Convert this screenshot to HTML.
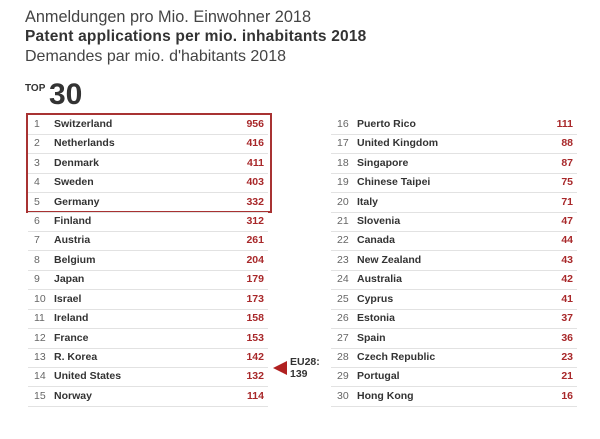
<!DOCTYPE html>
<html><head><meta charset="utf-8"><style>
body{margin:0;width:600px;height:439px;background:#fff;font-family:"Liberation Sans",Arial,sans-serif;color:#333;position:relative;overflow:hidden}
.t{position:absolute;left:25px;font-size:16.3px;white-space:nowrap;color:#444}
.row{position:absolute;height:19px;border-bottom:1px solid #e2e2e2;font-size:10.5px;line-height:19px}
.rk{position:absolute;color:#666}
.nm{position:absolute;font-weight:bold;color:#333}
.v{position:absolute;right:4px;font-weight:bold;color:#a8282a}
</style></head><body>
<div class="t" style="top:8px">Anmeldungen pro Mio. Einwohner 2018</div>
<div class="t" style="top:28px;font-size:15.5px;font-weight:bold;color:#333;letter-spacing:0.2px">Patent applications per mio. inhabitants 2018</div>
<div class="t" style="top:48px;font-size:16px">Demandes par mio. d'habitants 2018</div>
<div style="position:absolute;left:25px;top:83px;font-size:10px;font-weight:bold;color:#333">TOP</div>
<div style="position:absolute;left:49px;top:80px;font-size:30px;font-weight:bold;color:#333;line-height:30px">30</div>
<div style="position:absolute;left:26px;top:113px;width:242px;height:96px;border:2px solid #a83232"></div>
<div id="L"></div>
<div style="position:absolute;left:273px;top:361px;width:0;height:0;border-top:7px solid transparent;border-bottom:7px solid transparent;border-right:14px solid #b02020"></div>
<div style="position:absolute;left:290px;top:356px;font-size:10.5px;font-weight:bold;line-height:12px;color:#333">EU28:<br>139</div>
<script>
var l=[["Switzerland",956],["Netherlands",416],["Denmark",411],["Sweden",403],["Germany",332],["Finland",312],["Austria",261],["Belgium",204],["Japan",179],["Israel",173],["Ireland",158],["France",153],["R. Korea",142],["United States",132],["Norway",114]];
var r=[["Puerto Rico",111],["United Kingdom",88],["Singapore",87],["Chinese Taipei",75],["Italy",71],["Slovenia",47],["Canada",44],["New Zealand",43],["Australia",42],["Cyprus",41],["Estonia",37],["Spain",36],["Czech Republic",23],["Portugal",21],["Hong Kong",16]];
var h="";
function add(a,off,x,w){a.forEach(function(d,i){var y=114.8+i*19.43;h+='<div class="row" style="left:'+x+'px;top:'+y+'px;width:'+w+'px"><span class="rk" style="left:6px">'+(i+1+off)+'</span><span class="nm" style="left:26px">'+d[0]+'</span><span class="v">'+d[1]+'</span></div>';});}
add(l,0,28,240);add(r,15,331,246);
document.getElementById("L").innerHTML=h;
</script>
</body></html>
